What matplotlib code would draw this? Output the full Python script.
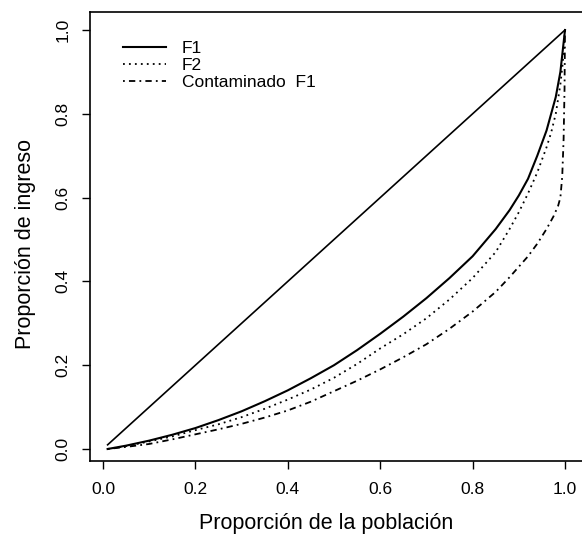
import matplotlib
matplotlib.use("Agg")
import matplotlib.pyplot as plt

plt.rcParams['font.family'] = ['Liberation Sans', 'DejaVu Sans']

# Data
diag_x = [0.01, 1.0]
diag_y = [0.01, 1.0]

p_f1 = [0.01, 0.05, 0.1, 0.15, 0.2, 0.25, 0.3, 0.35, 0.4, 0.45, 0.5, 0.55, 0.6, 0.65, 0.7,
        0.75, 0.8, 0.85, 0.88, 0.9, 0.92, 0.94, 0.96, 0.98, 0.99, 1.0]
l_f1 = [0.0, 0.008, 0.02, 0.034, 0.05, 0.069, 0.09, 0.114, 0.14, 0.169, 0.2, 0.236, 0.275, 0.316, 0.36,
        0.408, 0.46, 0.525, 0.57, 0.605, 0.645, 0.70, 0.76, 0.84, 0.90, 1.0]

p_f2 = [0.01, 0.05, 0.1, 0.15, 0.2, 0.25, 0.3, 0.35, 0.4, 0.45, 0.5, 0.55, 0.6, 0.65, 0.7,
        0.75, 0.8, 0.85, 0.88, 0.9, 0.92, 0.94, 0.96, 0.97, 0.98, 0.99, 0.995, 1.0]
l_f2 = [0.0, 0.007, 0.018, 0.03, 0.045, 0.059, 0.076, 0.096, 0.118, 0.142, 0.17, 0.203, 0.24, 0.274, 0.312,
        0.357, 0.408, 0.47, 0.525, 0.565, 0.61, 0.66, 0.72, 0.755, 0.80, 0.87, 0.92, 1.0]

p_c = [0.01, 0.05, 0.1, 0.15, 0.2, 0.25, 0.3, 0.35, 0.4, 0.45, 0.5, 0.55, 0.6, 0.65, 0.7,
       0.75, 0.8, 0.85, 0.88, 0.9, 0.92, 0.94, 0.96, 0.975, 0.985, 0.99, 0.994, 0.997, 0.999, 1.0]
l_c = [0.0, 0.005, 0.012, 0.023, 0.035, 0.047, 0.06, 0.075, 0.092, 0.113, 0.138, 0.163, 0.19, 0.219, 0.25,
       0.287, 0.328, 0.375, 0.41, 0.435, 0.46, 0.49, 0.525, 0.555, 0.58, 0.60, 0.65, 0.74, 0.86, 1.0]

ticks = [0.0, 0.2, 0.4, 0.6, 0.8, 1.0]
tick_labels = ["0.0", "0.2", "0.4", "0.6", "0.8", "1.0"]
legend_labels = ["F1", "F2", "Contaminado  F1"]

fig = plt.figure(figsize=(5.82, 5.37), dpi=100)
ax = fig.add_axes([90/582, 1-461/537, 496/582, 449/537])

ax.plot(diag_x, diag_y, color='black', lw=1.2)
l1, = ax.plot(p_f1, l_f1, color='black', lw=1.5, label=legend_labels[0])
l2, = ax.plot(p_f2, l_f2, color='black', lw=1.3, linestyle=(0, (1, 2.3)), label=legend_labels[1])
l3, = ax.plot(p_c, l_c, color='black', lw=1.3, linestyle=(0, (1, 2.3, 3.5, 2.3)), label=legend_labels[2])

x0 = -(103-90)/462
x1 = (586-103)/462
y0 = -(461-449)/419
y1 = (449-12)/419
ax.set_xlim(x0, x1)
ax.set_ylim(y0, y1)

ax.set_xticks(ticks)
ax.set_xticklabels(tick_labels)
ax.set_yticks(ticks)
ax.set_yticklabels(tick_labels, rotation=90, va='center')
ax.tick_params(direction='out', length=6, width=1, labelsize=12.5, pad=9)
ax.tick_params(axis='y', pad=8)
for s in ax.spines.values():
    s.set_linewidth(1.2)

ax.set_xlabel("Proporción de la población", fontsize=15.5, va='center')
ax.xaxis.set_label_coords((326-90)/496, (461-524)/449)
ax.set_ylabel("Proporción de ingreso", fontsize=15.5, va='center')
ax.yaxis.set_label_coords((26-90)/496, (461-244)/449)

ax.legend(handles=[l1, l2, l3], loc='upper left', bbox_to_anchor=((123-90)/496, (461-41)/449),
          frameon=False, fontsize=12.5, handlelength=2.5, handletextpad=0.9,
          labelspacing=0.1, borderpad=0, borderaxespad=0)

fig.savefig("out.png", dpi=100)
